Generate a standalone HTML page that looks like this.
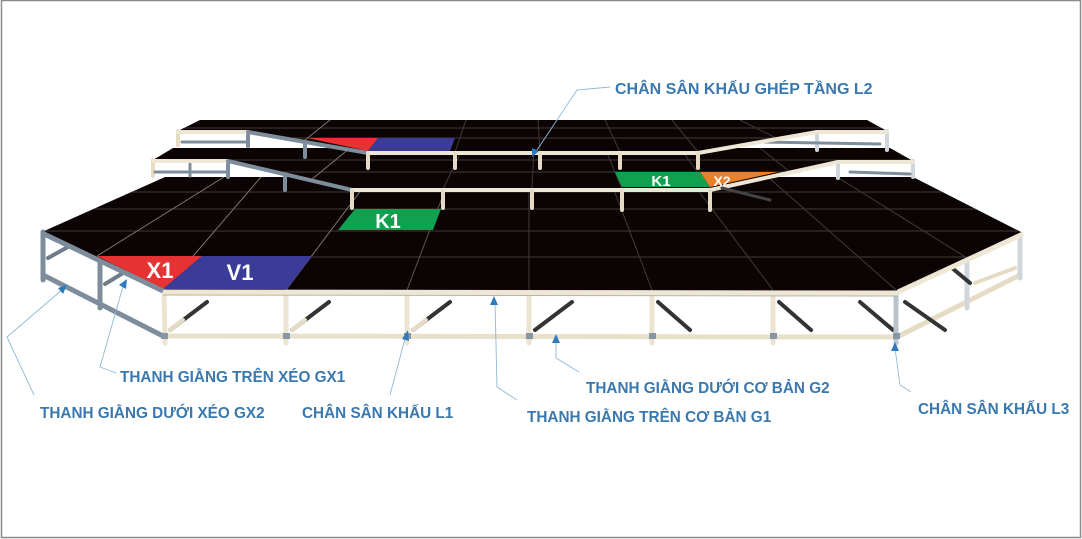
<!DOCTYPE html>
<html><head><meta charset="utf-8"><style>
html,body{margin:0;padding:0;background:#fff;}
svg{display:block;}
text{font-family:"Liberation Sans",Arial,sans-serif;font-weight:bold;}
.lb{fill:#3a78ad;font-size:15.3px;}
</style></head><body>
<svg width="1082" height="539" viewBox="0 0 1082 539" xmlns="http://www.w3.org/2000/svg">
<rect x="1.5" y="0.5" width="1079" height="537" fill="#fff" stroke="#8a8a8a" stroke-width="1.5"/>
<defs>
<clipPath id="c1"><polygon points="165,177 913,177 1023,233 898,291 163,290 42,232"/></clipPath>
<clipPath id="c2"><polygon points="153,160 228,160 352,189 710,189 838,161 913,161 890,148 173,148"/></clipPath>
<clipPath id="c3"><polygon points="178,131 248,131 368,152 698,152 817,131 887,131 867,120 200,120"/></clipPath>
</defs>

<g stroke-linecap="round">
<line x1="45" y1="276" x2="163" y2="336" stroke="#7e8d9c" stroke-width="5"/>
<line x1="43" y1="232" x2="43" y2="280" stroke="#7e8d9c" stroke-width="5"/>
<line x1="100" y1="258" x2="100" y2="308" stroke="#7e8d9c" stroke-width="5"/>
<line x1="48" y1="258" x2="95" y2="232" stroke="#6f7d8a" stroke-width="4"/>
<line x1="105" y1="284" x2="148" y2="258" stroke="#6f7d8a" stroke-width="4"/>
<line x1="897" y1="337" x2="1020" y2="275" stroke="#e6dcc6" stroke-width="5"/>
<line x1="967" y1="258" x2="967" y2="308" stroke="#cfd6dc" stroke-width="5"/>
<line x1="1020" y1="235" x2="1020" y2="278" stroke="#cfd6dc" stroke-width="5"/>
<line x1="905" y1="302" x2="945" y2="330" stroke="#333" stroke-width="4"/>
<line x1="975" y1="283" x2="1015" y2="268" stroke="#e6dcc6" stroke-width="4"/>
<line x1="940" y1="258" x2="970" y2="283" stroke="#333" stroke-width="4"/>
<g stroke="#333" stroke-width="4">
<line x1="170" y1="330" x2="207" y2="302"/>
<line x1="292" y1="330" x2="329" y2="302"/>
<line x1="413" y1="330" x2="450" y2="302"/>
<line x1="535" y1="330" x2="572" y2="302"/>
<line x1="658" y1="302" x2="690" y2="330"/>
<line x1="779" y1="302" x2="811" y2="330"/>
<line x1="860" y1="302" x2="893" y2="330"/>
</g>
<g stroke="#e6dcc6" stroke-width="4">
<line x1="170" y1="330" x2="183" y2="320"/>
<line x1="292" y1="330" x2="305" y2="320"/>
<line x1="413" y1="330" x2="426" y2="320"/>
</g>
<line x1="165" y1="336" x2="897" y2="337" stroke="#e9e0cb" stroke-width="5"/>
<g stroke="#ece3d0" stroke-width="5">
<line x1="164" y1="290" x2="165" y2="343"/>
<line x1="286" y1="290" x2="286" y2="343"/>
<line x1="407" y1="290" x2="407" y2="343"/>
<line x1="529" y1="290" x2="529" y2="343"/>
<line x1="652" y1="290" x2="652" y2="343"/>
<line x1="773" y1="290" x2="773" y2="343"/>
</g>
<line x1="896" y1="291" x2="896" y2="343" stroke="#b8c3cc" stroke-width="5"/>
<g fill="#8796a4">
<rect x="161" y="333" width="7" height="6"/><rect x="283" y="333" width="7" height="6"/><rect x="404" y="333" width="7" height="6"/><rect x="526" y="333" width="7" height="6"/><rect x="649" y="333" width="7" height="6"/><rect x="770" y="333" width="7" height="6"/><rect x="893" y="333" width="7" height="6"/>
</g>
</g>

<polygon points="165,177 913,177 1023,233 898,291 163,290 42,232" fill="#0c0404"/>
<g clip-path="url(#c1)" stroke="#3e3a38" stroke-width="1">
<line x1="0" y1="192" x2="1082" y2="192"/>
<line x1="0" y1="209" x2="1082" y2="209"/>
<line x1="0" y1="231" x2="1082" y2="231"/>
<line x1="0" y1="257" x2="1082" y2="257"/>
<line x1="164" y1="290" x2="261" y2="177" stroke="#7a7772"/>
<line x1="286" y1="290" x2="371" y2="177" stroke="#7a7772"/>
<line x1="407" y1="290" x2="450" y2="177" stroke="#5a5652"/>
<line x1="529" y1="290" x2="529" y2="177"/>
<line x1="652" y1="290" x2="609" y2="177"/>
<line x1="773" y1="290" x2="688" y2="177"/>
<line x1="896" y1="290" x2="768" y2="177"/>
<line x1="97" y1="256" x2="224" y2="177" stroke="#7a7772"/>
<line x1="967" y1="258" x2="837" y2="177"/>
</g>
<polygon points="97,256 202,256 163,289" fill="#e63232"/>
<polygon points="202,256 312,256 287,289 163,289" fill="#3b3c98"/>
<polygon points="355,209 441,209 433,230 338,230" fill="#10a050"/>
<text x="160" y="278" font-size="22" fill="#fff" text-anchor="middle">X1</text>
<text x="240" y="280" font-size="22" fill="#fff" text-anchor="middle">V1</text>
<text x="388" y="228" font-size="20" fill="#fff" text-anchor="middle">K1</text>
<line x1="163" y1="292" x2="898" y2="293" stroke="#efe7d6" stroke-width="5"/>
<line x1="163" y1="295" x2="898" y2="296" stroke="#b9b2a3" stroke-width="1"/>
<line x1="42" y1="233" x2="163" y2="291" stroke="#7e8d9c" stroke-width="5"/>
<line x1="898" y1="292" x2="1023" y2="234" stroke="#efe7d6" stroke-width="5"/>

<g stroke-linecap="round">
<line x1="153" y1="160" x2="153" y2="176" stroke="#e6dcc6" stroke-width="4"/>
<line x1="228" y1="160" x2="228" y2="177" stroke="#7e8d9c" stroke-width="4"/>
<line x1="190" y1="160" x2="190" y2="176" stroke="#7e8d9c" stroke-width="3"/>
<line x1="155" y1="172" x2="226" y2="172" stroke="#7e8d9c" stroke-width="3"/>
<line x1="285" y1="174" x2="285" y2="190" stroke="#7e8d9c" stroke-width="4"/>
<line x1="913" y1="161" x2="913" y2="177" stroke="#cfd6dc" stroke-width="4"/>
<line x1="838" y1="161" x2="838" y2="178" stroke="#cfd6dc" stroke-width="4"/>
<line x1="850" y1="172" x2="910" y2="174" stroke="#7e8d9c" stroke-width="3"/>
</g>
<polygon points="153,160 228,160 352,189 710,189 838,161 913,161 890,148 173,148" fill="#0c0404"/>
<g clip-path="url(#c2)" stroke="#3e3a38" stroke-width="1">
<line x1="0" y1="172" x2="1082" y2="172"/>
<line x1="0" y1="160" x2="1082" y2="160"/>
<line x1="300" y1="189" x2="350" y2="148" stroke="#7a7772"/>
<line x1="443" y1="189" x2="463" y2="148"/>
<line x1="532" y1="189" x2="534" y2="148"/>
<line x1="622" y1="189" x2="605" y2="148"/>
<line x1="710" y1="189" x2="680" y2="148"/>
<line x1="790" y1="172" x2="760" y2="148"/>
</g>
<polygon points="615,172 700,172 710,187 622,187" fill="#10a050"/>
<polygon points="700,172 778,172 710,187" fill="#e8802c"/>
<text x="661" y="186" font-size="15" fill="#fff" text-anchor="middle">K1</text>
<text x="722" y="186" font-size="14" fill="#fff" text-anchor="middle">X2</text>
<g stroke-linecap="round">
<line x1="153" y1="161" x2="228" y2="161" stroke="#efe7d6" stroke-width="4"/>
<line x1="228" y1="161" x2="352" y2="190" stroke="#7e8d9c" stroke-width="4"/>
<line x1="352" y1="190" x2="710" y2="190" stroke="#efe7d6" stroke-width="4"/>
<line x1="710" y1="190" x2="838" y2="162" stroke="#efe7d6" stroke-width="4"/>
<line x1="838" y1="162" x2="913" y2="162" stroke="#efe7d6" stroke-width="4"/>
<g stroke="#e6dcc6" stroke-width="4">
<line x1="352" y1="191" x2="352" y2="208"/>
<line x1="443" y1="191" x2="443" y2="208"/>
<line x1="532" y1="191" x2="532" y2="208"/>
<line x1="622" y1="191" x2="622" y2="210"/>
<line x1="710" y1="191" x2="710" y2="210"/>
</g>
<line x1="722" y1="188" x2="770" y2="200" stroke="#444" stroke-width="3"/>
</g>

<g stroke-linecap="round">
<line x1="178" y1="131" x2="178" y2="145" stroke="#e6dcc6" stroke-width="4"/>
<line x1="248" y1="131" x2="248" y2="146" stroke="#7e8d9c" stroke-width="4"/>
<line x1="182" y1="142" x2="245" y2="142" stroke="#7e8d9c" stroke-width="3"/>
<line x1="305" y1="141" x2="305" y2="157" stroke="#7e8d9c" stroke-width="4"/>
<line x1="887" y1="131" x2="887" y2="150" stroke="#cfd6dc" stroke-width="4"/>
<line x1="817" y1="131" x2="817" y2="150" stroke="#cfd6dc" stroke-width="4"/>
<line x1="760" y1="142" x2="880" y2="144" stroke="#7e8d9c" stroke-width="3"/>
</g>
<polygon points="178,131 248,131 368,152 698,152 817,131 887,131 867,120 200,120" fill="#0c0404"/>
<g clip-path="url(#c3)" stroke="#3e3a38" stroke-width="1">
<line x1="0" y1="138" x2="1082" y2="138"/>
<line x1="0" y1="128" x2="1082" y2="128"/>
<line x1="290" y1="152" x2="330" y2="120" stroke="#7a7772"/>
<line x1="455" y1="152" x2="466" y2="120"/>
<line x1="540" y1="152" x2="538" y2="120"/>
<line x1="620" y1="152" x2="605" y2="120"/>
<line x1="698" y1="152" x2="672" y2="120"/>
<line x1="780" y1="140" x2="740" y2="120"/>
</g>
<polygon points="307,138 378,138 368,151" fill="#e63232"/>
<polygon points="378,138 455,138 450,151 368,151" fill="#3b3c98"/>
<g stroke-linecap="round">
<line x1="178" y1="132" x2="248" y2="132" stroke="#efe7d6" stroke-width="4"/>
<line x1="248" y1="132" x2="368" y2="153" stroke="#7e8d9c" stroke-width="4"/>
<line x1="368" y1="153" x2="698" y2="153" stroke="#efe7d6" stroke-width="4"/>
<line x1="698" y1="153" x2="817" y2="132" stroke="#efe7d6" stroke-width="4"/>
<line x1="817" y1="132" x2="887" y2="132" stroke="#efe7d6" stroke-width="4"/>
<g stroke="#e6dcc6" stroke-width="4">
<line x1="368" y1="154" x2="368" y2="168"/>
<line x1="455" y1="154" x2="455" y2="168"/>
<line x1="540" y1="154" x2="540" y2="168"/>
<line x1="620" y1="154" x2="620" y2="168"/>
<line x1="698" y1="154" x2="698" y2="168"/>
</g>
</g>

<g fill="none" stroke="#8fb8d6" stroke-width="0.9">
<polyline points="34,395 7,337 63,289"/>
<polyline points="116,373 100,367 124,283"/>
<polyline points="390,395 406,335"/>
<polyline points="495,302 497,387 517,400"/>
<polyline points="556,340 556,358 579,372"/>
<polyline points="895,348 900,385 911,392"/>
<polyline points="610,87 577,90 535,153"/>
</g>
<g fill="#2c7bbf">
<polygon points="67,285 58,288 63,294"/>
<polygon points="127,279 119,285 126,289"/>
<polygon points="408,330 402,339 409,341"/>
<polygon points="494,296 490,305 498,305"/>
<polygon points="556,334 552,343 560,343"/>
<polygon points="895,342 891,351 899,351"/>
<polygon points="532,157 532,148 539,151"/>
</g>

<text class="lb" x="615" y="94" style="font-size:16px">CHÂN SÂN KHẤU GHÉP TẦNG L2</text>
<text class="lb" x="120" y="382">THANH GIẰNG TRÊN XÉO GX1</text>
<text class="lb" x="40" y="418">THANH GIẰNG DƯỚI XÉO GX2</text>
<text class="lb" x="302" y="418">CHÂN SÂN KHẤU L1</text>
<text class="lb" x="586" y="393">THANH GIẰNG DƯỚI CƠ BẢN G2</text>
<text class="lb" x="527" y="422">THANH GIẰNG TRÊN CƠ BẢN G1</text>
<text class="lb" x="918" y="414">CHÂN SÂN KHẤU L3</text>
</svg>
</body></html>
